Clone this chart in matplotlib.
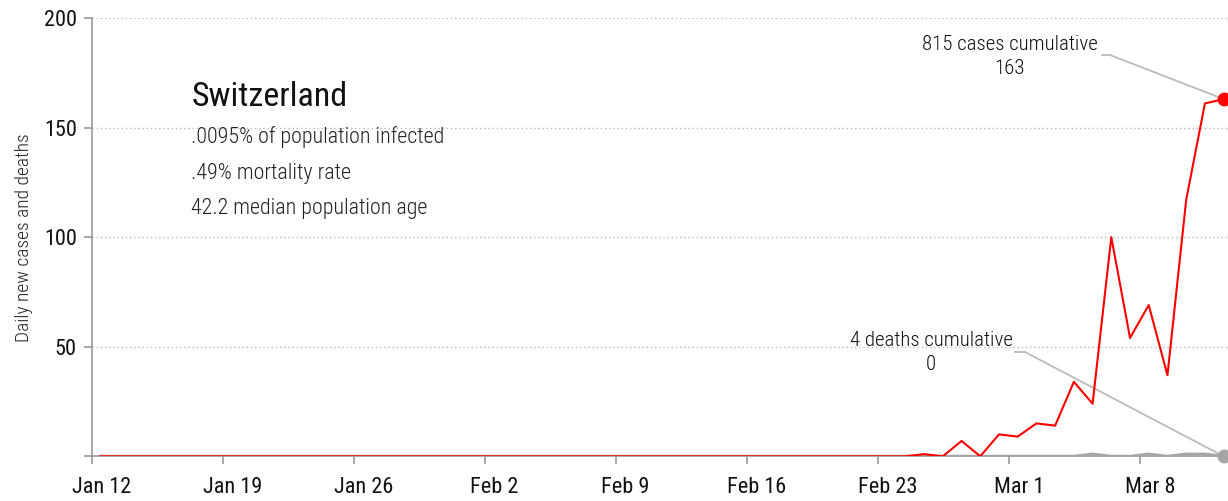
import matplotlib
matplotlib.use("Agg")
import matplotlib.pyplot as plt
from matplotlib.lines import Line2D
from matplotlib.transforms import ScaledTranslation
import numpy as np

# ─── Daten ────────────────────────────────────────────────────────────────────
# days counted from Jan 12 2020, one value per day up to Mar 12
cases = [0, 0, 0, 0, 0, 0, 0, 0, 0, 0, 0, 0, 0, 0, 0, 0, 0, 0, 0, 0,
         0, 0, 0, 0, 0, 0, 0, 0, 0, 0, 0, 0, 0, 0, 0, 0, 0, 0, 0, 0,
         0, 0, 0, 0, 1, 0, 7, 0, 10, 9, 15, 14, 34, 24, 100, 54, 69, 37,
         117, 161, 163]
deaths = [0, 0, 0, 0, 0, 0, 0, 0, 0, 0, 0, 0, 0, 0, 0, 0, 0, 0, 0, 0,
          0, 0, 0, 0, 0, 0, 0, 0, 0, 0, 0, 0, 0, 0, 0, 0, 0, 0, 0, 0,
          0, 0, 0, 0, 0, 0, 0, 0, 0, 0, 0, 0, 0, 1, 0, 0, 1, 0,
          1, 1, 0]
tick_days = [0, 7, 14, 21, 28, 35, 42, 49, 56]
tick_labels = ["Jan 12", "Jan 19", "Jan 26", "Feb 2", "Feb 9", "Feb 16",
               "Feb 23", "Mar 1", "Mar 8"]
y_ticks = [0, 50, 100, 150, 200]
y_tick_labels = ["", "50", "100", "150", "200"]

country = "Switzerland"
stats_lines = [".0095% of population infected",
               ".49% mortality rate",
               "42.2 median population age"]
cases_total = 815
deaths_total = 4

# ─── Schrift ──────────────────────────────────────────────────────────────────
plt.rcParams["font.family"] = ["Roboto Condensed", "DejaVu Sans"]
plt.rcParams["font.weight"] = 400

RED = "#ff0000"
GREY = "#a6a6a6"
AXIS = "#999999"
INK = "#111111"
W, H = 1228, 501


def fx(px):
    return px / W


def fy(py):
    return 1 - py / H


# ─── Diagramm ────────────────────────────────────────────────────────────────
fig = plt.figure(figsize=(W / 100, H / 100), dpi=100)
ax = fig.add_axes([fx(92), (H - 456.3) / H, (W - 92) / W, (456.3 - 18) / H])

x = np.arange(len(cases)) + 0.45
ax.plot(x, deaths, color=GREY, linewidth=2.2, zorder=3)
ax.plot(x, cases, color=RED, linewidth=1.5, zorder=4)
ax.plot(x[-1], cases[-1], "o", color=RED, markersize=9, clip_on=False, zorder=5)
ax.plot(x[-1], deaths[-1], "o", color=GREY, markersize=9, clip_on=False, zorder=5)

ax.set_xlim(0, (W - 92) / 18.72)
ax.set_ylim(0, 200)
ax.set_xticks(tick_days)
ax.set_xticklabels(tick_labels)
ax.set_yticks(y_ticks)
ax.set_yticklabels(y_tick_labels)
ax.tick_params(axis="both", colors=AXIS, labelcolor=INK, labelsize=16,
               length=6, width=1.2)
ax.tick_params(axis="x", pad=9)
ax.tick_params(axis="y", pad=5)

# date labels sit under the middle of the day, a bit right of the tick
shift = ScaledTranslation(9.5 / 100, 0, fig.dpi_scale_trans)
for lab in ax.get_xticklabels():
    lab.set_transform(lab.get_transform() + shift)

for y in y_ticks[1:]:
    ax.axhline(y, color="#bbbbbb", linewidth=1, linestyle=(0, (1, 2)), zorder=1)

ax.spines[["top", "right"]].set_visible(False)
ax.spines["left"].set_color(AXIS)
ax.spines["bottom"].set_color(AXIS)
ax.spines["left"].set_linewidth(1.2)
ax.spines["bottom"].set_linewidth(1.2)

ax.set_ylabel("Daily new cases and deaths", fontsize=14, color="#222222",
              fontweight=300, labelpad=8)

# ── Titel + Kennzahlen ───────────────────────────────────────────────────────
fig.text(fx(192), fy(97), country, fontsize=24.5, va="center", ha="left",
         color=INK)
for line, ypix in zip(stats_lines, [137, 173, 209]):
    fig.text(fx(191), fy(ypix), line, fontsize=15.8, va="center", ha="left",
             color="#222222", fontweight=300)

# ── Annotationen ─────────────────────────────────────────────────────────────
LEAD = "#bbbbbb"
fig.text(fx(1010), fy(45), f"{cases_total} cases cumulative", fontsize=15,
         ha="center", va="center", color=INK, fontweight=300)
fig.text(fx(1010), fy(68), f"{cases[-1]}", fontsize=15,
         ha="center", va="center", color=INK, fontweight=300)
fig.add_artist(Line2D([fx(1102), fx(1110)], [fy(55), fy(55)], color=LEAD,
                      linewidth=1.3))
ax.annotate("", xy=(x[-1], cases[-1]), xytext=(fx(1110), fy(55)),
            textcoords="figure fraction", annotation_clip=False,
            arrowprops=dict(arrowstyle="-", color=LEAD, linewidth=1.3,
                            shrinkA=0, shrinkB=0))

fig.text(fx(931), fy(341), f"{deaths_total} deaths cumulative", fontsize=15,
         ha="center", va="center", color=INK, fontweight=300)
fig.text(fx(931), fy(364), f"{deaths[-1]}", fontsize=15,
         ha="center", va="center", color=INK, fontweight=300)
fig.add_artist(Line2D([fx(1015), fx(1024)], [fy(351.5), fy(351.5)], color=LEAD,
                      linewidth=1.3))
ax.annotate("", xy=(x[-1], deaths[-1]), xytext=(fx(1024), fy(351.5)),
            textcoords="figure fraction", annotation_clip=False,
            arrowprops=dict(arrowstyle="-", color=LEAD, linewidth=1.3,
                            shrinkA=0, shrinkB=0))

fig.savefig("out.png", dpi=100, facecolor="white")
